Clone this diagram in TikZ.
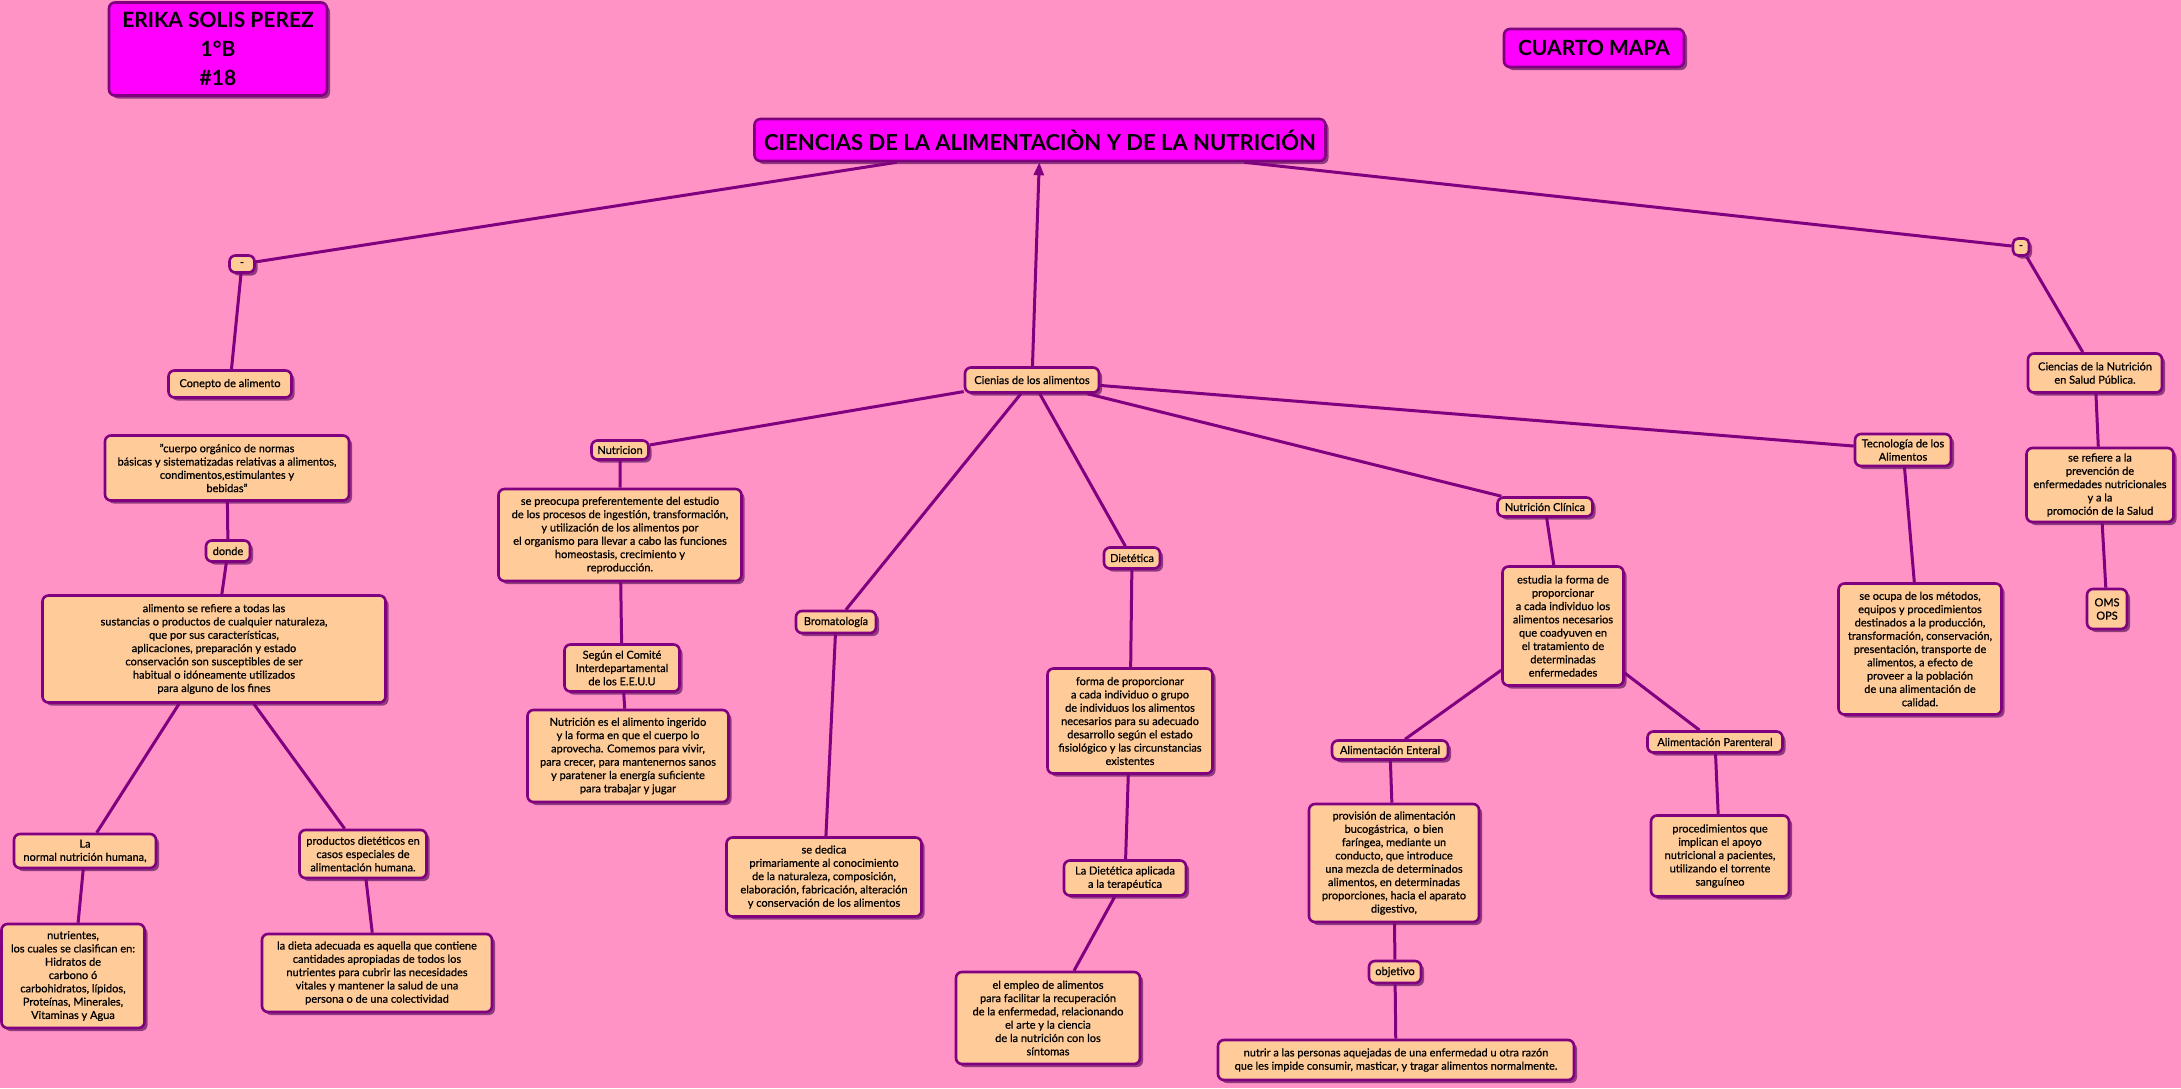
\documentclass[tikz,border=0pt]{standalone}
\usepackage{fontspec}
\setmainfont{Lato}[FakeBold=0.7]
\newfontfamily\titfont{Lato Bold}
\usetikzlibrary{shadows,arrows.meta}

\definecolor{fondo}{HTML}{FF93C6}
\definecolor{melocoton}{HTML}{FFCC99}
\definecolor{borde}{HTML}{800080}
\definecolor{sombra}{HTML}{8E3B7E}
\definecolor{fucsia}{HTML}{FF00FF}

\tikzset{
  caja/.style={draw=borde, line width=2.6pt, fill=melocoton, rounded corners=6pt,
    align=center, inner sep=2pt, font=\fontsize{11}{13.3}\selectfont,
    drop shadow={shadow xshift=3pt, shadow yshift=-3pt, fill=sombra, opacity=1}},
  cabeza/.style={caja, fill=fucsia, font=\titfont\fontsize{21}{29}\selectfont},
  tam/.style 2 args={minimum width=#1pt, minimum height=#2pt},
  linea/.style={draw=borde, line width=3pt},
}

\begin{document}
\begin{tikzpicture}[x=1pt,y=-1pt]
  \fill[fondo] (0,0) rectangle (2181,1088);
  \useasboundingbox (0,0) rectangle (2181,1088);

  \node[cabeza, tam={218}{93}] (erika) at (218,49) {ERIKA SOLIS PEREZ\\1°B\\\#18};
  \node[cabeza, tam={180}{38}] (cuarto) at (1594,48) {CUARTO MAPA};
  \node[cabeza, tam={571}{42}, font=\titfont\fontsize{22}{29}\selectfont] (titulo) at (1040,140) {CIENCIAS DE LA ALIMENTACIÒN Y DE LA NUTRICIÓN};

  % rama izquierda
  \node[caja, tam={25}{17}] (guionI) at (242,264) {-};
  \node[caja, tam={123}{27}] (concepto) at (230,384) {Conepto de alimento};
  \node[caja, tam={244}{65}] (cuerpo) at (227,468) {"cuerpo orgánico de normas\\básicas y sistematizadas relativas a alimentos,\\condimentos,estimulantes y\\bebidas"};
  \node[caja, tam={44}{21}] (donde) at (228,551) {donde};
  \node[caja, tam={343}{107}] (alimento) at (214,649) {alimento se refiere a todas las\\sustancias o productos de cualquier naturaleza,\\que por sus características,\\aplicaciones, preparación y estado\\conservación son susceptibles de ser\\habitual o idóneamente utilizados\\para alguno de los fines};
  \node[caja, tam={142}{34}] (normal) at (85,851) {La\\normal nutrición humana,};
  \node[caja, tam={127}{48}] (productos) at (363,854) {productos dietéticos en\\casos especiales de\\alimentación humana.};
  \node[caja, tam={143}{104}] (nutrientes) at (73,976) {nutrientes,\\los cuales se clasifican en:\\Hidratos de\\carbono ó\\carbohidratos, lípidos,\\Proteínas, Minerales,\\Vitaminas y Agua};
  \node[caja, tam={230}{78}] (dieta) at (377,973) {la dieta adecuada es aquella que contiene\\cantidades apropiadas de todos los\\nutrientes para cubrir las necesidades\\vitales y mantener la salud de una\\persona o de una colectividad};

  % rama central
  \node[caja, tam={134}{25}] (cienias) at (1032,380) {Cienias de los alimentos};
  \node[caja, tam={57}{19}] (nutricion) at (620,450) {Nutricion};
  \node[caja, tam={243}{92}] (preocupa) at (620,535) {se preocupa preferentemente del estudio\\de los procesos de ingestión, transformación,\\y utilización de los alimentos por\\el organismo para llevar a cabo las funciones\\homeostasis, crecimiento y\\reproducción.};
  \node[caja, tam={115}{47}] (comite) at (622,668) {Según el Comité\\Interdepartamental\\de los E.E.U.U};
  \node[caja, tam={201}{92}] (ingerido) at (628,756) {Nutrición es el alimento ingerido\\y la forma en que el cuerpo lo\\aprovecha. Comemos para vivir,\\para crecer, para mantenernos sanos\\y paratener la energía suficiente\\para trabajar y jugar};
  \node[caja, tam={80}{22}] (broma) at (836,622) {Bromatología};
  \node[caja, tam={195}{79}] (dedica) at (824,877) {se dedica\\primariamente al conocimiento\\de la naturaleza, composición,\\elaboración, fabricación, alteración\\y conservación de los alimentos};
  \node[caja, tam={56}{21}] (dietetica) at (1132,558) {Dietética};
  \node[caja, tam={165}{105}] (forma) at (1130,721) {forma de proporcionar\\a cada individuo o grupo\\de individuos los alimentos\\necesarios para su adecuado\\desarrollo según el estado\\fisiológico y las circunstancias\\existentes};
  \node[caja, tam={122}{35}] (aplicada) at (1125,878) {La Dietética aplicada\\a la terapéutica};
  \node[caja, tam={184}{92}] (empleo) at (1048,1018) {el empleo de alimentos\\para facilitar la recuperación\\de la enfermedad, relacionando\\el arte y la ciencia\\de la nutrición con los\\síntomas};
  \node[caja, tam={95}{19}] (clinica) at (1545,507) {Nutrición Clínica};
  \node[caja, tam={121}{119}] (estudia) at (1563,626) {estudia la forma de\\proporcionar\\a cada individuo los\\alimentos necesarios\\que coadyuven en\\el tratamiento de\\determinadas\\enfermedades};
  \node[caja, tam={116}{19}] (enteral) at (1390,750) {Alimentación Enteral};
  \node[caja, tam={170}{118}] (provision) at (1394,863) {provisión de alimentación\\bucogástrica,\ \ o bien\\faríngea, mediante un\\conducto, que introduce\\una mezcla de determinados\\alimentos, en determinadas\\proporciones, hacia el aparato\\digestivo,};
  \node[caja, tam={52}{22}] (objetivo) at (1395,972) {objetivo};
  \node[caja, tam={356}{40}] (nutrir) at (1396,1060) {nutrir a las personas aquejadas de una enfermedad u otra razón\\que les impide consumir, masticar, y tragar alimentos normalmente.};
  \node[caja, tam={135}{21}] (parenteral) at (1715,742) {Alimentación Parenteral};
  \node[caja, tam={138}{81}] (procedim) at (1720,856) {procedimientos que\\implican el apoyo\\nutricional a pacientes,\\utilizando el torrente\\sanguíneo};
  \node[caja, tam={96}{32}] (tecno) at (1903,450) {Tecnología de los\\Alimentos};
  \node[caja, tam={163}{131}] (ocupa) at (1920,649) {se ocupa de los métodos,\\equipos y procedimientos\\destinados a la producción,\\transformación, conservación,\\presentación, transporte de\\alimentos, a efecto de\\proveer a la población\\de una alimentación de\\calidad.};

  % rama derecha
  \node[caja, tam={16}{17}, rounded corners=5pt] (guionD) at (2021,247) {-};
  \node[caja, tam={134}{39}] (salud) at (2095,373) {Ciencias de la Nutrición\\en Salud Pública.};
  \node[caja, tam={147}{74}] (refiere) at (2100,485) {se refiere a la\\prevención de\\enfermedades nutricionales\\y a la\\promoción de la Salud};
  \node[caja, tam={40}{40}] (oms) at (2107,609) {OMS\\OPS};

  \draw[linea] (titulo) -- (guionI) -- (concepto);
  \draw[linea] (cuerpo) -- (donde) -- (alimento) -- (normal) -- (nutrientes);
  \draw[linea] (alimento) -- (productos) -- (dieta);
  \draw[linea] (titulo) -- (guionD) -- (salud) -- (refiere) -- (oms);
  \draw[linea, -{Triangle[length=13pt,width=10pt]}] (cienias) -- (titulo);
  \draw[linea] (cienias) -- (nutricion) -- (preocupa) -- (comite) -- (ingerido);
  \draw[linea] (cienias) -- (broma) -- (dedica);
  \draw[linea] (cienias) -- (dietetica) -- (forma) -- (aplicada) -- (empleo);
  \draw[linea] (cienias) -- (clinica) -- (estudia) -- (enteral) -- (provision) -- (objetivo) -- (nutrir);
  \draw[linea] (estudia) -- (parenteral) -- (procedim);
  \draw[linea] (cienias) -- (tecno) -- (ocupa);
\end{tikzpicture}
\end{document}
